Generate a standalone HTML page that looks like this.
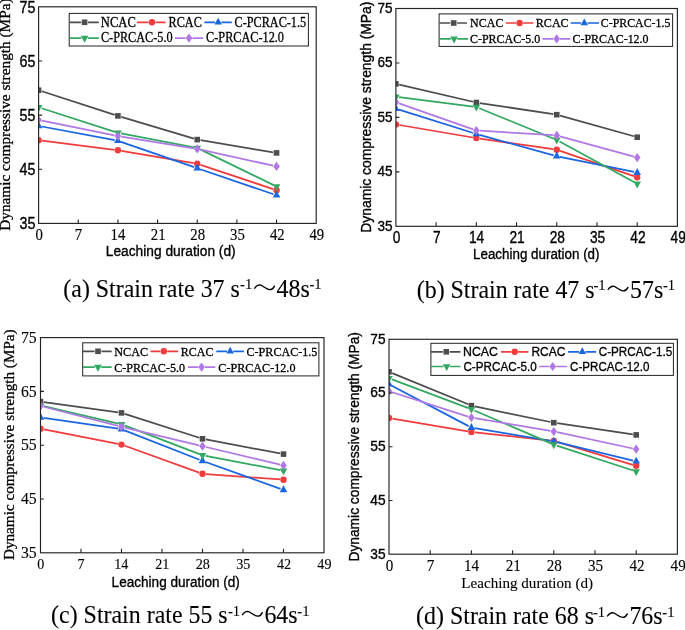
<!DOCTYPE html>
<html><head><meta charset="utf-8"><style>html,body{margin:0;padding:0;background:#fff;width:685px;height:630px;overflow:hidden}svg{display:block;filter:blur(0.35px)}</style></head>
<body>
<svg xmlns="http://www.w3.org/2000/svg" width="685" height="630" viewBox="0 0 685 630">
<rect width="685" height="630" fill="#fff"/>
<clipPath id="ca"><rect x="38.6" y="6.8" width="277.60" height="216.60"/></clipPath>
<g clip-path="url(#ca)">
<path d="M41.83 91.25L114.68 114.85M121.17 116.87L193.97 138.63M200.58 140.16L273.19 152.34" fill="none" stroke="#4d4d4d" stroke-width="1.75"/>
<rect x="35.80" y="87.40" width="5.60" height="5.60" fill="#4d4d4d"/>
<rect x="115.11" y="113.10" width="5.60" height="5.60" fill="#4d4d4d"/>
<rect x="194.43" y="136.80" width="5.60" height="5.60" fill="#4d4d4d"/>
<rect x="273.74" y="150.10" width="5.60" height="5.60" fill="#4d4d4d"/>
<path d="M42.07 140.64L114.44 149.86M121.36 150.89L193.78 163.21M200.55 164.91L273.22 189.09" fill="none" stroke="#f03c3c" stroke-width="1.75"/>
<circle cx="38.60" cy="140.20" r="3.20" fill="#f03c3c"/>
<circle cx="117.91" cy="150.30" r="3.20" fill="#f03c3c"/>
<circle cx="197.23" cy="163.80" r="3.20" fill="#f03c3c"/>
<circle cx="276.54" cy="190.20" r="3.20" fill="#f03c3c"/>
<path d="M41.74 126.49L114.77 140.21M120.94 141.84L194.20 167.16M200.26 169.23L273.51 194.27" fill="none" stroke="#1a66e0" stroke-width="1.75"/>
<path d="M34.80 128.20L42.40 128.20L38.60 121.30Z" fill="#1a66e0"/>
<path d="M114.11 143.10L121.71 143.10L117.91 136.20Z" fill="#1a66e0"/>
<path d="M193.43 170.50L201.03 170.50L197.23 163.60Z" fill="#1a66e0"/>
<path d="M272.74 197.60L280.34 197.60L276.54 190.70Z" fill="#1a66e0"/>
<path d="M41.65 108.28L114.87 131.82M121.06 133.40L194.09 147.40M200.11 149.40L273.66 185.10" fill="none" stroke="#32a861" stroke-width="1.75"/>
<path d="M34.80 105.00L42.40 105.00L38.60 111.90Z" fill="#32a861"/>
<path d="M114.11 130.50L121.71 130.50L117.91 137.40Z" fill="#32a861"/>
<path d="M193.43 145.70L201.03 145.70L197.23 152.60Z" fill="#32a861"/>
<path d="M272.74 184.20L280.34 184.20L276.54 191.10Z" fill="#32a861"/>
<path d="M41.93 120.68L114.58 135.42M121.27 136.64L193.87 148.36M200.55 149.63L273.22 165.67" fill="none" stroke="#b078e4" stroke-width="1.75"/>
<path d="M38.60 115.40L41.90 120.00L38.60 124.60L35.30 120.00Z" fill="#b078e4"/>
<path d="M117.91 131.50L121.21 136.10L117.91 140.70L114.61 136.10Z" fill="#b078e4"/>
<path d="M197.23 144.30L200.53 148.90L197.23 153.50L193.93 148.90Z" fill="#b078e4"/>
<path d="M276.54 161.80L279.84 166.40L276.54 171.00L273.24 166.40Z" fill="#b078e4"/>
</g>
<rect x="38.6" y="6.8" width="277.60" height="216.60" fill="none" stroke="#222" stroke-width="1.15"/>
<path d="M78.26 223.4v-4 M117.91 223.4v-4 M157.57 223.4v-4 M197.23 223.4v-4 M236.89 223.4v-4 M276.54 223.4v-4 M38.6 169.25h3.5 M38.6 115.10h3.5 M38.6 60.95h3.5" stroke="#222" stroke-width="1.1" fill="none"/>
<text x="19.51" y="229.18" font-family='"Liberation Sans", sans-serif' font-size="16.57" fill="#000" textLength="15.89" lengthAdjust="spacingAndGlyphs" stroke="#000" stroke-width="0.35">35</text>
<text x="19.51" y="175.03" font-family='"Liberation Sans", sans-serif' font-size="16.57" fill="#000" textLength="15.89" lengthAdjust="spacingAndGlyphs" stroke="#000" stroke-width="0.35">45</text>
<text x="19.51" y="120.88" font-family='"Liberation Sans", sans-serif' font-size="16.57" fill="#000" textLength="15.89" lengthAdjust="spacingAndGlyphs" stroke="#000" stroke-width="0.35">55</text>
<text x="19.51" y="66.73" font-family='"Liberation Sans", sans-serif' font-size="16.57" fill="#000" textLength="15.89" lengthAdjust="spacingAndGlyphs" stroke="#000" stroke-width="0.35">65</text>
<text x="19.51" y="12.58" font-family='"Liberation Sans", sans-serif' font-size="16.57" fill="#000" textLength="15.89" lengthAdjust="spacingAndGlyphs" stroke="#000" stroke-width="0.35">75</text>
<text x="35.44" y="239.90" font-family='"Liberation Serif", serif' font-size="16.21" fill="#000" textLength="7.39" lengthAdjust="spacingAndGlyphs" stroke="#000" stroke-width="0.12">0</text>
<text x="74.84" y="239.90" font-family='"Liberation Serif", serif' font-size="16.21" fill="#000" textLength="7.39" lengthAdjust="spacingAndGlyphs" stroke="#000" stroke-width="0.12">7</text>
<text x="110.54" y="239.90" font-family='"Liberation Serif", serif' font-size="16.21" fill="#000" textLength="14.78" lengthAdjust="spacingAndGlyphs" stroke="#000" stroke-width="0.12">14</text>
<text x="150.83" y="239.90" font-family='"Liberation Serif", serif' font-size="16.21" fill="#000" textLength="14.78" lengthAdjust="spacingAndGlyphs" stroke="#000" stroke-width="0.12">21</text>
<text x="190.34" y="239.90" font-family='"Liberation Serif", serif' font-size="16.21" fill="#000" textLength="14.78" lengthAdjust="spacingAndGlyphs" stroke="#000" stroke-width="0.12">28</text>
<text x="230.00" y="239.90" font-family='"Liberation Serif", serif' font-size="16.21" fill="#000" textLength="14.78" lengthAdjust="spacingAndGlyphs" stroke="#000" stroke-width="0.12">35</text>
<text x="269.95" y="239.90" font-family='"Liberation Serif", serif' font-size="16.21" fill="#000" textLength="14.78" lengthAdjust="spacingAndGlyphs" stroke="#000" stroke-width="0.12">42</text>
<text x="309.49" y="239.90" font-family='"Liberation Serif", serif' font-size="16.21" fill="#000" textLength="14.78" lengthAdjust="spacingAndGlyphs" stroke="#000" stroke-width="0.12">49</text>
<text x="105.80" y="256.09" font-family='"Liberation Sans", sans-serif' font-size="15.29" fill="#000" textLength="129.84" lengthAdjust="spacingAndGlyphs" stroke="#000" stroke-width="0.35">Leaching duration (d)</text>
<text x="10.20" y="230.76" transform="rotate(-90 10.20 230.76)" font-family='"Liberation Serif", serif' font-size="15.30" fill="#000" stroke="#000" stroke-width="0.3">Dynamic compressive strength (MPa)</text>
<rect x="69.2" y="13.4" width="239.20" height="32.60" fill="#fff" stroke="#222" stroke-width="1"/>
<path d="M69.5 22.3H81.20M88.00 22.3H98.8" stroke="#4d4d4d" stroke-width="1.7"/>
<rect x="81.80" y="19.50" width="5.60" height="5.60" fill="#4d4d4d"/>
<text x="100.82" y="26.65" font-family='"Liberation Serif", serif' font-size="13.60" fill="#000" textLength="35.01" lengthAdjust="spacingAndGlyphs" stroke="#000" stroke-width="0.3">NCAC</text>
<path d="M137.1 22.3H148.50M155.50 22.3H165.6" stroke="#f03c3c" stroke-width="1.7"/>
<circle cx="152.00" cy="22.30" r="3.20" fill="#f03c3c"/>
<text x="168.53" y="26.65" font-family='"Liberation Serif", serif' font-size="13.60" fill="#000" textLength="33.28" lengthAdjust="spacingAndGlyphs" stroke="#000" stroke-width="0.3">RCAC</text>
<path d="M204.4 22.3H215.00M221.40 22.3H231.8" stroke="#1a66e0" stroke-width="1.7"/>
<path d="M214.40 24.60L222.00 24.60L218.20 17.70Z" fill="#1a66e0"/>
<text x="234.51" y="26.65" font-family='"Liberation Serif", serif' font-size="13.60" fill="#000" textLength="71.65" lengthAdjust="spacingAndGlyphs" stroke="#000" stroke-width="0.3">C-PCRAC-1.5</text>
<path d="M69.5 38.1H81.40M87.80 38.1H98.8" stroke="#32a861" stroke-width="1.7"/>
<path d="M80.80 35.80L88.40 35.80L84.60 42.70Z" fill="#32a861"/>
<text x="100.91" y="42.45" font-family='"Liberation Serif", serif' font-size="13.60" fill="#000" textLength="71.75" lengthAdjust="spacingAndGlyphs" stroke="#000" stroke-width="0.3">C-PRCAC-5.0</text>
<path d="M175 38.1H185.60M192.40 38.1H203.3" stroke="#b078e4" stroke-width="1.7"/>
<path d="M189.00 33.50L192.30 38.10L189.00 42.70L185.70 38.10Z" fill="#b078e4"/>
<text x="206.11" y="42.45" font-family='"Liberation Serif", serif' font-size="13.60" fill="#000" textLength="77.85" lengthAdjust="spacingAndGlyphs" stroke="#000" stroke-width="0.3">C-PRCAC-12.0</text>
<text x="63.32" y="296.50" font-family='"Liberation Serif", serif' font-size="25.20" fill="#000" textLength="176.53" lengthAdjust="spacingAndGlyphs" stroke="#000" stroke-width="0.1">(a) Strain rate 37 s</text>
<text x="240.09" y="289.10" font-family='"Liberation Serif", serif' font-size="14.60" fill="#000" stroke="#000" stroke-width="0.1">-1</text>
<path d="M254.70 288.20C256.30 285.70 257.70 284.90 259.70 284.90C262.70 285.00 265.70 289.50 269.70 289.60C271.70 289.70 273.50 288.10 274.50 286.10" fill="none" stroke="#000" stroke-width="1.35" stroke-linecap="round"/>
<text x="276.62" y="296.50" font-family='"Liberation Serif", serif' font-size="25.20" fill="#000" textLength="33.20" lengthAdjust="spacingAndGlyphs" stroke="#000" stroke-width="0.1">48s</text>
<text x="309.48" y="289.10" font-family='"Liberation Serif", serif' font-size="14.60" fill="#000" stroke="#000" stroke-width="0.1">-1</text>
<clipPath id="cb"><rect x="395.9" y="8.5" width="281.50" height="217.80"/></clipPath>
<g clip-path="url(#cb)">
<path d="M399.21 84.67L473.02 101.73M479.69 103.01L553.40 114.19M560.03 115.62L633.91 136.28" fill="none" stroke="#4d4d4d" stroke-width="1.75"/>
<rect x="393.10" y="81.10" width="5.60" height="5.60" fill="#4d4d4d"/>
<rect x="473.53" y="99.70" width="5.60" height="5.60" fill="#4d4d4d"/>
<rect x="553.96" y="111.90" width="5.60" height="5.60" fill="#4d4d4d"/>
<rect x="634.39" y="134.40" width="5.60" height="5.60" fill="#4d4d4d"/>
<path d="M399.35 124.99L472.88 137.51M479.79 138.60L553.29 149.20M560.07 150.84L633.88 176.16" fill="none" stroke="#f03c3c" stroke-width="1.75"/>
<circle cx="395.90" cy="124.40" r="3.20" fill="#f03c3c"/>
<circle cx="476.33" cy="138.10" r="3.20" fill="#f03c3c"/>
<circle cx="556.76" cy="149.70" r="3.20" fill="#f03c3c"/>
<circle cx="637.19" cy="177.30" r="3.20" fill="#f03c3c"/>
<path d="M398.95 109.56L473.28 133.04M479.41 134.85L553.67 155.35M559.89 156.84L634.05 171.96" fill="none" stroke="#1a66e0" stroke-width="1.75"/>
<path d="M392.10 110.90L399.70 110.90L395.90 104.00Z" fill="#1a66e0"/>
<path d="M472.53 136.30L480.13 136.30L476.33 129.40Z" fill="#1a66e0"/>
<path d="M552.96 158.50L560.56 158.50L556.76 151.60Z" fill="#1a66e0"/>
<path d="M633.39 174.90L640.99 174.90L637.19 168.00Z" fill="#1a66e0"/>
<path d="M399.07 97.20L473.15 106.60M479.29 108.21L553.80 138.69M559.57 141.43L634.38 182.27" fill="none" stroke="#32a861" stroke-width="1.75"/>
<path d="M392.10 94.50L399.70 94.50L395.90 101.40Z" fill="#32a861"/>
<path d="M472.53 104.70L480.13 104.70L476.33 111.60Z" fill="#32a861"/>
<path d="M552.96 137.60L560.56 137.60L556.76 144.50Z" fill="#32a861"/>
<path d="M633.39 181.50L640.99 181.50L637.19 188.40Z" fill="#32a861"/>
<path d="M399.11 103.42L473.12 129.38M479.72 130.71L553.36 135.19M560.03 136.30L633.91 156.70" fill="none" stroke="#b078e4" stroke-width="1.75"/>
<path d="M395.90 97.70L399.20 102.30L395.90 106.90L392.60 102.30Z" fill="#b078e4"/>
<path d="M476.33 125.90L479.63 130.50L476.33 135.10L473.03 130.50Z" fill="#b078e4"/>
<path d="M556.76 130.80L560.06 135.40L556.76 140.00L553.46 135.40Z" fill="#b078e4"/>
<path d="M637.19 153.00L640.49 157.60L637.19 162.20L633.89 157.60Z" fill="#b078e4"/>
</g>
<rect x="395.9" y="8.5" width="281.50" height="217.80" fill="none" stroke="#222" stroke-width="1.15"/>
<path d="M436.11 226.3v-4 M476.33 226.3v-4 M516.54 226.3v-4 M556.76 226.3v-4 M596.97 226.3v-4 M637.19 226.3v-4 M395.9 171.85h3.5 M395.9 117.40h3.5 M395.9 62.95h3.5" stroke="#222" stroke-width="1.1" fill="none"/>
<text x="377.42" y="230.64" font-family='"Liberation Sans", sans-serif' font-size="15.38" fill="#000" textLength="15.05" lengthAdjust="spacingAndGlyphs" stroke="#000" stroke-width="0.35">35</text>
<text x="377.42" y="176.19" font-family='"Liberation Sans", sans-serif' font-size="15.38" fill="#000" textLength="15.05" lengthAdjust="spacingAndGlyphs" stroke="#000" stroke-width="0.35">45</text>
<text x="377.42" y="121.74" font-family='"Liberation Sans", sans-serif' font-size="15.38" fill="#000" textLength="15.05" lengthAdjust="spacingAndGlyphs" stroke="#000" stroke-width="0.35">55</text>
<text x="377.42" y="67.29" font-family='"Liberation Sans", sans-serif' font-size="15.38" fill="#000" textLength="15.05" lengthAdjust="spacingAndGlyphs" stroke="#000" stroke-width="0.35">65</text>
<text x="377.42" y="12.84" font-family='"Liberation Sans", sans-serif' font-size="15.38" fill="#000" textLength="15.05" lengthAdjust="spacingAndGlyphs" stroke="#000" stroke-width="0.35">75</text>
<text x="392.63" y="242.50" font-family='"Liberation Sans", sans-serif' font-size="16.81" fill="#000" textLength="7.64" lengthAdjust="spacingAndGlyphs" stroke="#000" stroke-width="0.35">0</text>
<text x="432.88" y="242.50" font-family='"Liberation Sans", sans-serif' font-size="16.81" fill="#000" textLength="7.64" lengthAdjust="spacingAndGlyphs" stroke="#000" stroke-width="0.35">7</text>
<text x="468.97" y="242.50" font-family='"Liberation Sans", sans-serif' font-size="16.81" fill="#000" textLength="15.27" lengthAdjust="spacingAndGlyphs" stroke="#000" stroke-width="0.35">14</text>
<text x="509.46" y="242.50" font-family='"Liberation Sans", sans-serif' font-size="16.81" fill="#000" textLength="15.27" lengthAdjust="spacingAndGlyphs" stroke="#000" stroke-width="0.35">21</text>
<text x="549.64" y="242.50" font-family='"Liberation Sans", sans-serif' font-size="16.81" fill="#000" textLength="15.27" lengthAdjust="spacingAndGlyphs" stroke="#000" stroke-width="0.35">28</text>
<text x="589.92" y="242.50" font-family='"Liberation Sans", sans-serif' font-size="16.81" fill="#000" textLength="15.27" lengthAdjust="spacingAndGlyphs" stroke="#000" stroke-width="0.35">35</text>
<text x="630.34" y="242.50" font-family='"Liberation Sans", sans-serif' font-size="16.81" fill="#000" textLength="15.27" lengthAdjust="spacingAndGlyphs" stroke="#000" stroke-width="0.35">42</text>
<text x="670.52" y="242.50" font-family='"Liberation Sans", sans-serif' font-size="16.81" fill="#000" textLength="15.27" lengthAdjust="spacingAndGlyphs" stroke="#000" stroke-width="0.35">49</text>
<text x="473.03" y="258.62" font-family='"Liberation Sans", sans-serif' font-size="14.83" fill="#000" textLength="126.49" lengthAdjust="spacingAndGlyphs" stroke="#000" stroke-width="0.35">Leaching duration (d)</text>
<text x="370.90" y="232.71" transform="rotate(-90 370.90 232.71)" font-family='"Liberation Sans", sans-serif' font-size="14.50" fill="#000" textLength="231.17" lengthAdjust="spacingAndGlyphs" stroke="#000" stroke-width="0.35">Dynamic compressive strength (MPa)</text>
<rect x="439.1" y="13.9" width="233.50" height="32.50" fill="#fff" stroke="#222" stroke-width="1"/>
<path d="M439.5 23H450.30M457.10 23H467" stroke="#4d4d4d" stroke-width="1.7"/>
<rect x="450.90" y="20.20" width="5.60" height="5.60" fill="#4d4d4d"/>
<text x="470.04" y="27.10" font-family='"Liberation Serif", serif' font-size="13.30" fill="#000" textLength="33.36" lengthAdjust="spacingAndGlyphs" stroke="#000" stroke-width="0.3">NCAC</text>
<path d="M505.9 23H516.10M523.10 23H533.4" stroke="#f03c3c" stroke-width="1.7"/>
<circle cx="519.60" cy="23.00" r="3.20" fill="#f03c3c"/>
<text x="535.74" y="27.10" font-family='"Liberation Serif", serif' font-size="13.30" fill="#000" textLength="32.97" lengthAdjust="spacingAndGlyphs" stroke="#000" stroke-width="0.3">RCAC</text>
<path d="M570.7 23H581.10M587.50 23H599" stroke="#1a66e0" stroke-width="1.7"/>
<path d="M580.50 25.30L588.10 25.30L584.30 18.40Z" fill="#1a66e0"/>
<text x="600.83" y="27.10" font-family='"Liberation Serif", serif' font-size="13.30" fill="#000" textLength="69.52" lengthAdjust="spacingAndGlyphs" stroke="#000" stroke-width="0.3">C-PRCAC-1.5</text>
<path d="M439.5 38.8H450.90M457.30 38.8H468" stroke="#32a861" stroke-width="1.7"/>
<path d="M450.30 36.50L457.90 36.50L454.10 43.40Z" fill="#32a861"/>
<text x="469.92" y="42.90" font-family='"Liberation Serif", serif' font-size="13.30" fill="#000" textLength="70.23" lengthAdjust="spacingAndGlyphs" stroke="#000" stroke-width="0.3">C-PRCAC-5.0</text>
<path d="M542.5 38.8H553.30M560.10 38.8H570.3" stroke="#b078e4" stroke-width="1.7"/>
<path d="M556.70 34.20L560.00 38.80L556.70 43.40L553.40 38.80Z" fill="#b078e4"/>
<text x="572.52" y="42.90" font-family='"Liberation Serif", serif' font-size="13.30" fill="#000" textLength="76.03" lengthAdjust="spacingAndGlyphs" stroke="#000" stroke-width="0.3">C-PRCAC-12.0</text>
<text x="416.72" y="297.80" font-family='"Liberation Serif", serif' font-size="25.20" fill="#000" textLength="177.87" lengthAdjust="spacingAndGlyphs" stroke="#000" stroke-width="0.1">(b) Strain rate 47 s</text>
<text x="593.48" y="290.40" font-family='"Liberation Serif", serif' font-size="14.60" fill="#000" stroke="#000" stroke-width="0.1">-1</text>
<path d="M608.10 289.50C609.70 287.00 611.10 286.20 613.10 286.20C616.10 286.30 619.10 290.80 623.10 290.90C625.10 291.00 626.90 289.40 627.90 287.40" fill="none" stroke="#000" stroke-width="1.35" stroke-linecap="round"/>
<text x="630.02" y="297.80" font-family='"Liberation Serif", serif' font-size="25.20" fill="#000" textLength="33.20" lengthAdjust="spacingAndGlyphs" stroke="#000" stroke-width="0.1">57s</text>
<text x="662.88" y="290.40" font-family='"Liberation Serif", serif' font-size="14.60" fill="#000" stroke="#000" stroke-width="0.1">-1</text>
<clipPath id="cc"><rect x="40.5" y="337.6" width="283.50" height="215.20"/></clipPath>
<g clip-path="url(#cc)">
<path d="M43.87 402.07L118.13 412.43M124.74 413.94L199.26 437.76M205.84 439.43L280.16 453.47" fill="none" stroke="#4d4d4d" stroke-width="1.75"/>
<rect x="37.70" y="398.80" width="5.60" height="5.60" fill="#4d4d4d"/>
<rect x="118.70" y="410.10" width="5.60" height="5.60" fill="#4d4d4d"/>
<rect x="199.70" y="436.00" width="5.60" height="5.60" fill="#4d4d4d"/>
<rect x="280.70" y="451.30" width="5.60" height="5.60" fill="#4d4d4d"/>
<path d="M43.94 429.47L118.06 443.93M124.79 445.79L199.21 472.61M205.99 474.05L280.01 479.45" fill="none" stroke="#f03c3c" stroke-width="1.75"/>
<circle cx="40.50" cy="428.80" r="3.20" fill="#f03c3c"/>
<circle cx="121.50" cy="444.60" r="3.20" fill="#f03c3c"/>
<circle cx="202.50" cy="473.80" r="3.20" fill="#f03c3c"/>
<circle cx="283.50" cy="479.70" r="3.20" fill="#f03c3c"/>
<path d="M43.67 417.86L118.33 428.74M124.48 430.37L199.52 459.73M205.51 461.98L280.49 488.82" fill="none" stroke="#1a66e0" stroke-width="1.75"/>
<path d="M36.70 419.70L44.30 419.70L40.50 412.80Z" fill="#1a66e0"/>
<path d="M117.70 431.50L125.30 431.50L121.50 424.60Z" fill="#1a66e0"/>
<path d="M198.70 463.20L206.30 463.20L202.50 456.30Z" fill="#1a66e0"/>
<path d="M279.70 492.20L287.30 492.20L283.50 485.30Z" fill="#1a66e0"/>
<path d="M43.62 406.22L118.38 423.58M124.49 425.44L199.51 454.16M205.64 455.90L280.36 470.10" fill="none" stroke="#32a861" stroke-width="1.75"/>
<path d="M36.70 403.20L44.30 403.20L40.50 410.10Z" fill="#32a861"/>
<path d="M117.70 422.00L125.30 422.00L121.50 428.90Z" fill="#32a861"/>
<path d="M198.70 453.00L206.30 453.00L202.50 459.90Z" fill="#32a861"/>
<path d="M279.70 468.40L287.30 468.40L283.50 475.30Z" fill="#32a861"/>
<path d="M43.79 406.75L118.21 425.95M124.81 427.59L199.19 445.41M205.81 446.98L280.19 464.62" fill="none" stroke="#b078e4" stroke-width="1.75"/>
<path d="M40.50 401.30L43.80 405.90L40.50 410.50L37.20 405.90Z" fill="#b078e4"/>
<path d="M121.50 422.20L124.80 426.80L121.50 431.40L118.20 426.80Z" fill="#b078e4"/>
<path d="M202.50 441.60L205.80 446.20L202.50 450.80L199.20 446.20Z" fill="#b078e4"/>
<path d="M283.50 460.80L286.80 465.40L283.50 470.00L280.20 465.40Z" fill="#b078e4"/>
</g>
<rect x="40.5" y="337.6" width="283.50" height="215.20" fill="none" stroke="#222" stroke-width="1.15"/>
<path d="M81.00 552.8v-4 M121.50 552.8v-4 M162.00 552.8v-4 M202.50 552.8v-4 M243.00 552.8v-4 M283.50 552.8v-4 M40.5 499.00h3.5 M40.5 445.20h3.5 M40.5 391.40h3.5" stroke="#222" stroke-width="1.1" fill="none"/>
<text x="20.88" y="557.93" font-family='"Liberation Serif", serif' font-size="16.84" fill="#000" textLength="15.75" lengthAdjust="spacingAndGlyphs" stroke="#000" stroke-width="0.12">35</text>
<text x="20.88" y="504.13" font-family='"Liberation Serif", serif' font-size="16.84" fill="#000" textLength="15.75" lengthAdjust="spacingAndGlyphs" stroke="#000" stroke-width="0.12">45</text>
<text x="20.88" y="450.33" font-family='"Liberation Serif", serif' font-size="16.84" fill="#000" textLength="15.75" lengthAdjust="spacingAndGlyphs" stroke="#000" stroke-width="0.12">55</text>
<text x="20.88" y="396.53" font-family='"Liberation Serif", serif' font-size="16.84" fill="#000" textLength="15.75" lengthAdjust="spacingAndGlyphs" stroke="#000" stroke-width="0.12">65</text>
<text x="20.88" y="342.73" font-family='"Liberation Serif", serif' font-size="16.84" fill="#000" textLength="15.75" lengthAdjust="spacingAndGlyphs" stroke="#000" stroke-width="0.12">75</text>
<text x="37.22" y="568.90" font-family='"Liberation Serif", serif' font-size="15.61" fill="#000" textLength="7.06" lengthAdjust="spacingAndGlyphs" stroke="#000" stroke-width="0.12">0</text>
<text x="77.48" y="568.90" font-family='"Liberation Serif", serif' font-size="15.61" fill="#000" textLength="7.06" lengthAdjust="spacingAndGlyphs" stroke="#000" stroke-width="0.12">7</text>
<text x="114.20" y="568.90" font-family='"Liberation Serif", serif' font-size="15.61" fill="#000" textLength="14.11" lengthAdjust="spacingAndGlyphs" stroke="#000" stroke-width="0.12">14</text>
<text x="155.30" y="568.90" font-family='"Liberation Serif", serif' font-size="15.61" fill="#000" textLength="14.11" lengthAdjust="spacingAndGlyphs" stroke="#000" stroke-width="0.12">21</text>
<text x="195.66" y="568.90" font-family='"Liberation Serif", serif' font-size="15.61" fill="#000" textLength="14.11" lengthAdjust="spacingAndGlyphs" stroke="#000" stroke-width="0.12">28</text>
<text x="236.16" y="568.90" font-family='"Liberation Serif", serif' font-size="15.61" fill="#000" textLength="14.11" lengthAdjust="spacingAndGlyphs" stroke="#000" stroke-width="0.12">35</text>
<text x="276.94" y="568.90" font-family='"Liberation Serif", serif' font-size="15.61" fill="#000" textLength="14.11" lengthAdjust="spacingAndGlyphs" stroke="#000" stroke-width="0.12">42</text>
<text x="317.34" y="568.90" font-family='"Liberation Serif", serif' font-size="15.61" fill="#000" textLength="14.11" lengthAdjust="spacingAndGlyphs" stroke="#000" stroke-width="0.12">49</text>
<text x="111.61" y="586.69" font-family='"Liberation Sans", sans-serif' font-size="15.29" fill="#000" textLength="128.21" lengthAdjust="spacingAndGlyphs" stroke="#000" stroke-width="0.35">Leaching duration (d)</text>
<text x="13.80" y="560.05" transform="rotate(-90 13.80 560.05)" font-family='"Liberation Serif", serif' font-size="15.20" fill="#000" stroke="#000" stroke-width="0.3">Dynamic compressive strength (MPa)</text>
<rect x="82.7" y="342.8" width="236.20" height="33.10" fill="#fff" stroke="#222" stroke-width="1"/>
<path d="M83 351.3H94.60M101.40 351.3H111.7" stroke="#4d4d4d" stroke-width="1.7"/>
<rect x="95.20" y="348.50" width="5.60" height="5.60" fill="#4d4d4d"/>
<text x="114.34" y="356.00" font-family='"Liberation Serif", serif' font-size="12.80" fill="#000" textLength="33.78" lengthAdjust="spacingAndGlyphs" stroke="#000" stroke-width="0.3">NCAC</text>
<path d="M150.5 351.3H160.30M167.30 351.3H178.1" stroke="#f03c3c" stroke-width="1.7"/>
<circle cx="163.80" cy="351.30" r="3.20" fill="#f03c3c"/>
<text x="180.84" y="356.00" font-family='"Liberation Serif", serif' font-size="12.80" fill="#000" textLength="32.66" lengthAdjust="spacingAndGlyphs" stroke="#000" stroke-width="0.3">RCAC</text>
<path d="M216.3 351.3H227.00M233.40 351.3H243.9" stroke="#1a66e0" stroke-width="1.7"/>
<path d="M226.40 353.60L234.00 353.60L230.20 346.70Z" fill="#1a66e0"/>
<text x="246.52" y="356.00" font-family='"Liberation Serif", serif' font-size="12.80" fill="#000" textLength="70.84" lengthAdjust="spacingAndGlyphs" stroke="#000" stroke-width="0.3">C-PRCAC-1.5</text>
<path d="M83 367.1H94.80M101.20 367.1H111.7" stroke="#32a861" stroke-width="1.7"/>
<path d="M94.20 364.80L101.80 364.80L98.00 371.70Z" fill="#32a861"/>
<text x="114.22" y="371.80" font-family='"Liberation Serif", serif' font-size="12.80" fill="#000" textLength="70.84" lengthAdjust="spacingAndGlyphs" stroke="#000" stroke-width="0.3">C-PRCAC-5.0</text>
<path d="M187.9 367.1H198.20M205.00 367.1H215.3" stroke="#b078e4" stroke-width="1.7"/>
<path d="M201.60 362.50L204.90 367.10L201.60 371.70L198.30 367.10Z" fill="#b078e4"/>
<text x="218.32" y="371.80" font-family='"Liberation Serif", serif' font-size="12.80" fill="#000" textLength="77.14" lengthAdjust="spacingAndGlyphs" stroke="#000" stroke-width="0.3">C-PRCAC-12.0</text>
<text x="51.12" y="623.00" font-family='"Liberation Serif", serif' font-size="25.20" fill="#000" textLength="176.53" lengthAdjust="spacingAndGlyphs" stroke="#000" stroke-width="0.1">(c) Strain rate 55 s</text>
<text x="227.88" y="615.60" font-family='"Liberation Serif", serif' font-size="14.60" fill="#000" stroke="#000" stroke-width="0.1">-1</text>
<path d="M242.50 614.70C244.10 612.20 245.50 611.40 247.50 611.40C250.50 611.50 253.50 616.00 257.50 616.10C259.50 616.20 261.30 614.60 262.30 612.60" fill="none" stroke="#000" stroke-width="1.35" stroke-linecap="round"/>
<text x="264.42" y="623.00" font-family='"Liberation Serif", serif' font-size="25.20" fill="#000" textLength="33.20" lengthAdjust="spacingAndGlyphs" stroke="#000" stroke-width="0.1">64s</text>
<text x="297.28" y="615.60" font-family='"Liberation Serif", serif' font-size="14.60" fill="#000" stroke="#000" stroke-width="0.1">-1</text>
<clipPath id="cd"><rect x="389.0" y="339.3" width="288.40" height="214.90"/></clipPath>
<g clip-path="url(#cd)">
<path d="M392.15 373.09L468.25 404.31M474.73 406.29L550.47 422.01M557.16 423.20L632.84 434.40" fill="none" stroke="#4d4d4d" stroke-width="1.75"/>
<rect x="386.20" y="369.00" width="5.60" height="5.60" fill="#4d4d4d"/>
<rect x="468.60" y="402.80" width="5.60" height="5.60" fill="#4d4d4d"/>
<rect x="551.00" y="419.90" width="5.60" height="5.60" fill="#4d4d4d"/>
<rect x="633.40" y="432.10" width="5.60" height="5.60" fill="#4d4d4d"/>
<path d="M392.45 418.58L467.95 431.32M474.88 432.28L550.32 440.52M557.15 441.91L632.85 464.79" fill="none" stroke="#f03c3c" stroke-width="1.75"/>
<circle cx="389.00" cy="418.00" r="3.20" fill="#f03c3c"/>
<circle cx="471.40" cy="431.90" r="3.20" fill="#f03c3c"/>
<circle cx="553.80" cy="440.90" r="3.20" fill="#f03c3c"/>
<circle cx="636.20" cy="465.80" r="3.20" fill="#f03c3c"/>
<path d="M391.83 385.79L468.57 426.11M474.56 428.12L550.64 440.78M556.91 442.05L633.09 460.55" fill="none" stroke="#1a66e0" stroke-width="1.75"/>
<path d="M385.20 386.60L392.80 386.60L389.00 379.70Z" fill="#1a66e0"/>
<path d="M467.60 429.90L475.20 429.90L471.40 423.00Z" fill="#1a66e0"/>
<path d="M550.00 443.60L557.60 443.60L553.80 436.70Z" fill="#1a66e0"/>
<path d="M632.40 463.60L640.00 463.60L636.20 456.70Z" fill="#1a66e0"/>
<path d="M392.00 379.42L468.40 408.08M474.34 410.46L550.86 443.34M556.84 445.59L633.16 470.51" fill="none" stroke="#32a861" stroke-width="1.75"/>
<path d="M385.20 376.00L392.80 376.00L389.00 382.90Z" fill="#32a861"/>
<path d="M467.60 406.90L475.20 406.90L471.40 413.80Z" fill="#32a861"/>
<path d="M550.00 442.30L557.60 442.30L553.80 449.20Z" fill="#32a861"/>
<path d="M632.40 469.20L640.00 469.20L636.20 476.10Z" fill="#32a861"/>
<path d="M392.24 392.24L468.16 416.56M474.75 418.17L550.45 430.93M557.12 432.21L632.88 448.49" fill="none" stroke="#b078e4" stroke-width="1.75"/>
<path d="M389.00 386.60L392.30 391.20L389.00 395.80L385.70 391.20Z" fill="#b078e4"/>
<path d="M471.40 413.00L474.70 417.60L471.40 422.20L468.10 417.60Z" fill="#b078e4"/>
<path d="M553.80 426.90L557.10 431.50L553.80 436.10L550.50 431.50Z" fill="#b078e4"/>
<path d="M636.20 444.60L639.50 449.20L636.20 453.80L632.90 449.20Z" fill="#b078e4"/>
</g>
<rect x="389.0" y="339.3" width="288.40" height="214.90" fill="none" stroke="#222" stroke-width="1.15"/>
<path d="M430.20 554.2v-4 M471.40 554.2v-4 M512.60 554.2v-4 M553.80 554.2v-4 M595.00 554.2v-4 M636.20 554.2v-4 M389.0 500.48h3.5 M389.0 446.75h3.5 M389.0 393.03h3.5" stroke="#222" stroke-width="1.1" fill="none"/>
<text x="370.31" y="558.54" font-family='"Liberation Sans", sans-serif' font-size="15.04" fill="#000" textLength="15.27" lengthAdjust="spacingAndGlyphs" stroke="#000" stroke-width="0.35">35</text>
<text x="370.31" y="504.81" font-family='"Liberation Sans", sans-serif' font-size="15.04" fill="#000" textLength="15.27" lengthAdjust="spacingAndGlyphs" stroke="#000" stroke-width="0.35">45</text>
<text x="370.31" y="451.09" font-family='"Liberation Sans", sans-serif' font-size="15.04" fill="#000" textLength="15.27" lengthAdjust="spacingAndGlyphs" stroke="#000" stroke-width="0.35">55</text>
<text x="370.31" y="397.37" font-family='"Liberation Sans", sans-serif' font-size="15.04" fill="#000" textLength="15.27" lengthAdjust="spacingAndGlyphs" stroke="#000" stroke-width="0.35">65</text>
<text x="370.31" y="343.64" font-family='"Liberation Sans", sans-serif' font-size="15.04" fill="#000" textLength="15.27" lengthAdjust="spacingAndGlyphs" stroke="#000" stroke-width="0.35">75</text>
<text x="385.82" y="571.00" font-family='"Liberation Serif", serif' font-size="16.97" fill="#000" textLength="7.56" lengthAdjust="spacingAndGlyphs" stroke="#000" stroke-width="0.12">0</text>
<text x="426.76" y="571.00" font-family='"Liberation Serif", serif' font-size="16.97" fill="#000" textLength="7.56" lengthAdjust="spacingAndGlyphs" stroke="#000" stroke-width="0.12">7</text>
<text x="463.92" y="571.00" font-family='"Liberation Serif", serif' font-size="16.97" fill="#000" textLength="15.11" lengthAdjust="spacingAndGlyphs" stroke="#000" stroke-width="0.12">14</text>
<text x="505.76" y="571.00" font-family='"Liberation Serif", serif' font-size="16.97" fill="#000" textLength="15.11" lengthAdjust="spacingAndGlyphs" stroke="#000" stroke-width="0.12">21</text>
<text x="546.81" y="571.00" font-family='"Liberation Serif", serif' font-size="16.97" fill="#000" textLength="15.11" lengthAdjust="spacingAndGlyphs" stroke="#000" stroke-width="0.12">28</text>
<text x="588.01" y="571.00" font-family='"Liberation Serif", serif' font-size="16.97" fill="#000" textLength="15.11" lengthAdjust="spacingAndGlyphs" stroke="#000" stroke-width="0.12">35</text>
<text x="629.51" y="571.00" font-family='"Liberation Serif", serif' font-size="16.97" fill="#000" textLength="15.11" lengthAdjust="spacingAndGlyphs" stroke="#000" stroke-width="0.12">42</text>
<text x="670.60" y="571.00" font-family='"Liberation Serif", serif' font-size="16.97" fill="#000" textLength="15.11" lengthAdjust="spacingAndGlyphs" stroke="#000" stroke-width="0.12">49</text>
<text x="461.35" y="587.89" font-family='"Liberation Serif", serif' font-size="15.38" fill="#000" textLength="131.71" lengthAdjust="spacingAndGlyphs" stroke="#000" stroke-width="0.12">Leaching duration (d)</text>
<text x="359.40" y="561.50" transform="rotate(-90 359.40 561.50)" font-family='"Liberation Sans", sans-serif' font-size="14.50" fill="#000" textLength="229.45" lengthAdjust="spacingAndGlyphs" stroke="#000" stroke-width="0.35">Dynamic compressive strength (MPa)</text>
<rect x="430.9" y="343.3" width="242.50" height="32.10" fill="#fff" stroke="#222" stroke-width="1"/>
<path d="M431 351.8H442.90M449.70 351.8H460.5" stroke="#4d4d4d" stroke-width="1.7"/>
<rect x="443.50" y="349.00" width="5.60" height="5.60" fill="#4d4d4d"/>
<text x="463.01" y="356.00" font-family='"Liberation Sans", sans-serif' font-size="11.90" fill="#000" textLength="34.96" lengthAdjust="spacingAndGlyphs" stroke="#000" stroke-width="0.3">NCAC</text>
<path d="M500.9 351.8H511.20M518.20 351.8H528.5" stroke="#f03c3c" stroke-width="1.7"/>
<circle cx="514.70" cy="351.80" r="3.20" fill="#f03c3c"/>
<text x="531.44" y="356.00" font-family='"Liberation Sans", sans-serif' font-size="11.90" fill="#000" textLength="34.02" lengthAdjust="spacingAndGlyphs" stroke="#000" stroke-width="0.3">RCAC</text>
<path d="M568 351.8H579.10M585.50 351.8H596.1" stroke="#1a66e0" stroke-width="1.7"/>
<path d="M578.50 354.10L586.10 354.10L582.30 347.20Z" fill="#1a66e0"/>
<text x="598.72" y="356.00" font-family='"Liberation Sans", sans-serif' font-size="11.90" fill="#000" textLength="73.44" lengthAdjust="spacingAndGlyphs" stroke="#000" stroke-width="0.3">C-PRCAC-1.5</text>
<path d="M431 366.5H443.50M449.90 366.5H460.5" stroke="#32a861" stroke-width="1.7"/>
<path d="M442.90 364.20L450.50 364.20L446.70 371.10Z" fill="#32a861"/>
<text x="463.42" y="370.70" font-family='"Liberation Sans", sans-serif' font-size="11.90" fill="#000" textLength="73.38" lengthAdjust="spacingAndGlyphs" stroke="#000" stroke-width="0.3">C-PRCAC-5.0</text>
<path d="M539.3 366.5H549.30M556.10 366.5H567.1" stroke="#b078e4" stroke-width="1.7"/>
<path d="M552.70 361.90L556.00 366.50L552.70 371.10L549.40 366.50Z" fill="#b078e4"/>
<text x="570.12" y="370.70" font-family='"Liberation Sans", sans-serif' font-size="11.90" fill="#000" textLength="79.29" lengthAdjust="spacingAndGlyphs" stroke="#000" stroke-width="0.3">C-PRCAC-12.0</text>
<text x="416.12" y="624.30" font-family='"Liberation Serif", serif' font-size="25.20" fill="#000" textLength="177.87" lengthAdjust="spacingAndGlyphs" stroke="#000" stroke-width="0.1">(d) Strain rate 68 s</text>
<text x="592.88" y="616.90" font-family='"Liberation Serif", serif' font-size="14.60" fill="#000" stroke="#000" stroke-width="0.1">-1</text>
<path d="M607.50 616.00C609.10 613.50 610.50 612.70 612.50 612.70C615.50 612.80 618.50 617.30 622.50 617.40C624.50 617.50 626.30 615.90 627.30 613.90" fill="none" stroke="#000" stroke-width="1.35" stroke-linecap="round"/>
<text x="629.42" y="624.30" font-family='"Liberation Serif", serif' font-size="25.20" fill="#000" textLength="33.20" lengthAdjust="spacingAndGlyphs" stroke="#000" stroke-width="0.1">76s</text>
<text x="662.28" y="616.90" font-family='"Liberation Serif", serif' font-size="14.60" fill="#000" stroke="#000" stroke-width="0.1">-1</text>
</svg>
</body></html>
